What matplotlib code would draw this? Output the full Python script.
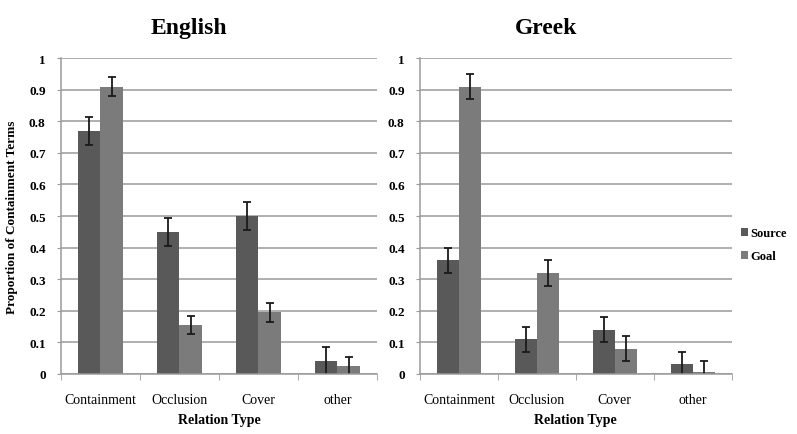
import matplotlib
matplotlib.use('Agg')
import matplotlib.pyplot as plt
import numpy as np

plt.rcParams.update({
    'font.family': 'Liberation Serif',
    'font.size': 9,
})

SOURCE_C = '#595959'
GOAL_C = '#7b7b7b'
GRID_C = '#9a9a9a'

categories = ['Containment', 'Occlusion', 'Cover', 'other']
series = ['Source', 'Goal']

english_source = [0.77, 0.45, 0.50, 0.04]
english_goal = [0.91, 0.155, 0.195, 0.025]
english_source_err = [0.045, 0.045, 0.045, 0.045]
english_goal_err = [0.03, 0.03, 0.03, 0.03]

greek_source = [0.36, 0.11, 0.14, 0.03]
greek_goal = [0.91, 0.32, 0.08, 0.005]
greek_source_err = [0.04, 0.04, 0.04, 0.04]
greek_goal_err = [0.04, 0.04, 0.04, 0.035]

y_ticks = [0, 0.1, 0.2, 0.3, 0.4, 0.5, 0.6, 0.7, 0.8, 0.9, 1]
y_tick_labels = ['0', '0.1', '0.2', '0.3', '0.4', '0.5', '0.6', '0.7', '0.8', '0.9', '1']


def draw_panel(ax, title, src, goal, src_err, goal_err):
    x = np.arange(len(categories))
    w = 0.28
    err_kw = dict(ecolor='#1a1a1a', elinewidth=1.3, capsize=3, capthick=1.3)
    ax.bar(x - w / 2, src, w, color=SOURCE_C, yerr=src_err,
           error_kw=err_kw, label=series[0], zorder=2)
    ax.bar(x + w / 2, goal, w, color=GOAL_C, yerr=goal_err,
           error_kw=err_kw, label=series[1], zorder=2)

    ax.set_xlim(-0.5, len(categories) - 0.5)
    ax.set_ylim(0, 1)
    ax.set_yticks(y_ticks)
    ax.set_yticklabels(y_tick_labels, fontweight='bold', fontsize=9.5)
    ax.set_xticks(x)
    ax.set_xticklabels(categories, fontsize=10)
    # category boundary ticks on the x axis
    ax.set_xticks(np.arange(len(categories) + 1) - 0.5, minor=True)
    ax.tick_params(axis='x', which='major', length=0, pad=14)
    ax.tick_params(axis='x', which='minor', length=4, color=GRID_C)
    ax.tick_params(axis='y', length=3, color=GRID_C, pad=8)

    ax.grid(axis='y', color=GRID_C, lw=1.1, zorder=0)
    for side in ['top', 'right']:
        ax.spines[side].set_visible(False)
    for side in ['left', 'bottom']:
        ax.spines[side].set_color(GRID_C)
        ax.spines[side].set_linewidth(1.1)

    ax.set_xlabel('Relation Type', fontweight='bold', fontsize=10, labelpad=5)
    ax.set_title(title, fontweight='bold', fontsize=17, x=0.405, pad=18)


fig = plt.figure(figsize=(7.97, 4.35), dpi=100)
ax1 = fig.add_axes([0.0765, 0.138, 0.3965, 0.726])
ax2 = fig.add_axes([0.527, 0.138, 0.391, 0.726])

draw_panel(ax1, 'English', english_source, english_goal,
           english_source_err, english_goal_err)
draw_panel(ax2, 'Greek', greek_source, greek_goal,
           greek_source_err, greek_goal_err)

ax1.set_ylabel('Proportion of Containment Terms', fontweight='bold',
               fontsize=9.5, labelpad=8)

handles, labels = ax2.get_legend_handles_labels()
fig.legend(handles, labels, loc='center left', bbox_to_anchor=(0.915, 0.435),
           frameon=False, handlelength=0.6, handleheight=0.6,
           handletextpad=0.2, labelspacing=0.9,
           prop={'weight': 'bold', 'size': 9})

fig.savefig('out.png', dpi=100)
